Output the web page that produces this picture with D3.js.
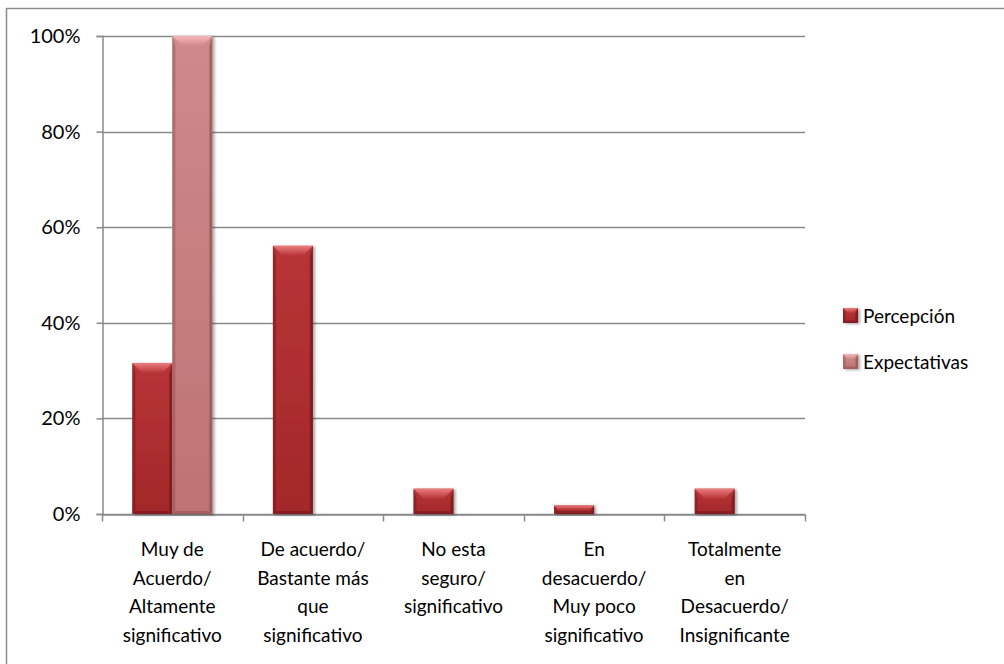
<!DOCTYPE html>
<html>
<head>
<meta charset="utf-8">
<script src="https://cdn.jsdelivr.net/npm/d3@7"></script>
<style>
  html, body { margin: 0; padding: 0; background: #fff; }
  svg { display: block; }
  text { font-family: Lato, "Open Sans", "Liberation Sans", sans-serif; fill: #000; }
</style>
</head>
<body>
<svg id="chart" width="1004" height="664"></svg>
<script>
// Survey results: share of answers per category
const categories = [
  ["Muy de", "Acuerdo/", "Altamente", "significativo"],
  ["De acuerdo/", "Bastante más", "que", "significativo"],
  ["No esta", "seguro/", "significativo"],
  ["En", "desacuerdo/", "Muy poco", "significativo"],
  ["Totalmente", "en", "Desacuerdo/", "Insignificante"]
];
const seriesNames = ["Percepción", "Expectativas"];
const percepcion = [0.316, 0.561, 0.053, 0.018, 0.053];
const expectativas = [1.0, 0, 0, 0, 0];
const yTicks = [0, 0.2, 0.4, 0.6, 0.8, 1.0];

const palette = {
  "Percepción":   { base: "#A3282A", light: "#EC7C7E", dark: "#6E1517", mid: "#B73436" },
  "Expectativas": { base: "#BE7374", light: "#F6B6B7", dark: "#8C4E4F", mid: "#CF8A8B" }
};

const svg = d3.select("#chart");

// outer frame
svg.append("rect")
  .attr("x", 6.5).attr("y", 8.5).attr("width", 1010).attr("height", 670)
  .attr("fill", "#fff").attr("stroke", "#8c8c8c").attr("stroke-width", 1.5);

const plot = { left: 102, right: 805, top: 36, bottom: 514 };

const x = d3.scaleBand()
  .domain(d3.range(categories.length))
  .range([plot.left, plot.right])
  .paddingInner(0).paddingOuter(0);

// two bars per category, gap of 150% of a bar width between groups
const inner = d3.scaleBand()
  .domain(seriesNames)
  .range([0, x.bandwidth()])
  .paddingInner(0).paddingOuter(0.757);

const y = d3.scaleLinear().domain([0, 1]).range([plot.bottom, plot.top]);

const defs = svg.append("defs");
const shadow = defs.append("filter").attr("id", "shadow")
  .attr("x", "-20%").attr("y", "-20%").attr("width", "150%").attr("height", "140%");
shadow.append("feGaussianBlur").attr("in", "SourceAlpha").attr("stdDeviation", 1.6);
shadow.append("feOffset").attr("dx", 1.5).attr("dy", 0.5).attr("result", "b");
shadow.append("feComponentTransfer").append("feFuncA").attr("type", "linear").attr("slope", 0.35);
const merge = shadow.append("feMerge");
merge.append("feMergeNode");
merge.append("feMergeNode").attr("in", "SourceGraphic");

seriesNames.forEach((name, i) => {
  const c = palette[name];
  const g = defs.append("linearGradient").attr("id", "grad" + i)
    .attr("x1", 0).attr("y1", 0).attr("x2", 0).attr("y2", 1);
  g.append("stop").attr("offset", "0%").attr("stop-color", c.mid);
  g.append("stop").attr("offset", "100%").attr("stop-color", c.base);
  const t = defs.append("linearGradient").attr("id", "top" + i)
    .attr("x1", 0).attr("y1", 0).attr("x2", 0).attr("y2", 1);
  t.append("stop").attr("offset", "0%").attr("stop-color", c.light);
  t.append("stop").attr("offset", "100%").attr("stop-color", c.mid);
});

// horizontal gridlines
svg.append("g")
  .selectAll("line")
  .data(yTicks)
  .join("line")
  .attr("x1", plot.left).attr("x2", plot.right)
  .attr("y1", d => Math.round(y(d)) + 0.5).attr("y2", d => Math.round(y(d)) + 0.5)
  .attr("stroke", "#8a8a8a").attr("stroke-width", 1.5);

// y axis
const yAxis = d3.axisLeft(y).tickValues(yTicks).tickFormat(d3.format(".0%")).tickSize(6).tickPadding(16);
const ya = svg.append("g").attr("transform", `translate(${plot.left + 0.5},0)`).call(yAxis);
ya.select(".domain").attr("stroke", "#8a8a8a").attr("stroke-width", 1.5);
ya.selectAll(".tick line").attr("stroke", "#8a8a8a").attr("stroke-width", 1.5);
ya.selectAll(".tick text").attr("font-size", 20).attr("font-family", "Lato, 'Open Sans', sans-serif").attr("fill", "#000");

// x axis
const xAxis = d3.axisBottom(x).tickSize(0).tickFormat("");
const xa = svg.append("g").attr("transform", `translate(0,${plot.bottom + 0.5})`).call(xAxis);
xa.select(".domain").attr("stroke", "#8a8a8a").attr("stroke-width", 1.5);
xa.selectAll(".tick").remove();
const boundaries = d3.range(categories.length + 1).map(i => plot.left + i * x.step());
xa.selectAll("line.sep")
  .data(boundaries)
  .join("line").attr("class", "sep")
  .attr("x1", d => Math.round(d) + 0.5).attr("x2", d => Math.round(d) + 0.5)
  .attr("y1", 0).attr("y2", 7)
  .attr("stroke", "#8a8a8a").attr("stroke-width", 1.5);

// category labels
const labels = svg.append("g");
categories.forEach((lines, i) => {
  const t = labels.append("text")
    .attr("x", x(i) + x.bandwidth() / 2)
    .attr("y", 556)
    .attr("text-anchor", "middle")
    .attr("font-size", 19);
  lines.forEach((ln, j) => {
    t.append("tspan").attr("x", x(i) + x.bandwidth() / 2).attr("dy", j === 0 ? 0 : 28.6).text(ln);
  });
});

// beveled bar
function bevelBar(g, bx, by, bw, bh, si, maxB) {
  if (bh <= 0) return;
  const c = palette[seriesNames[si]];
  const b = Math.min(maxB || 10, bh / 2, bw / 2);
  const s = Math.min(3, bw / 6);
  const grp = g.append("g").attr("filter", "url(#shadow)");
  grp.append("rect").attr("x", bx).attr("y", by).attr("width", bw).attr("height", bh)
    .attr("fill", `url(#grad${si})`);
  const poly = pts => pts.map(p => p.join(",")).join(" ");
  // left and right bevel faces
  grp.append("polygon").attr("points", poly([[bx, by], [bx + s, by + b], [bx + s, by + bh - s], [bx, by + bh]]))
    .attr("fill", c.dark).attr("opacity", 0.45);
  grp.append("polygon").attr("points", poly([[bx + bw, by], [bx + bw - s, by + b], [bx + bw - s, by + bh - s], [bx + bw, by + bh]]))
    .attr("fill", c.dark).attr("opacity", 0.65);
  // bottom face
  grp.append("polygon").attr("points", poly([[bx, by + bh], [bx + s, by + bh - s], [bx + bw - s, by + bh - s], [bx + bw, by + bh]]))
    .attr("fill", c.dark).attr("opacity", 0.5);
  // top face (lit)
  grp.append("polygon").attr("points", poly([[bx, by], [bx + bw, by], [bx + bw - b, by + b], [bx + b, by + b]]))
    .attr("fill", `url(#top${si})`);
}

const bars = svg.append("g");
const values = [percepcion, expectativas];
values.forEach((vals, si) => {
  vals.forEach((v, ci) => {
    const bx = x(ci) + inner(seriesNames[si]);
    const top = y(v);
    bevelBar(bars, bx, top, inner.bandwidth(), y(0) - top, si);
  });
});

// legend
const legend = svg.append("g").attr("transform", "translate(843,308)");
seriesNames.forEach((name, i) => {
  const row = legend.append("g").attr("transform", `translate(0,${i * 46})`);
  bevelBar(row, 0, 0, 15, 15, i, 5);
  row.append("text").attr("x", 20).attr("y", 14.5).attr("font-size", 19).text(name);
});
</script>
</body>
</html>
